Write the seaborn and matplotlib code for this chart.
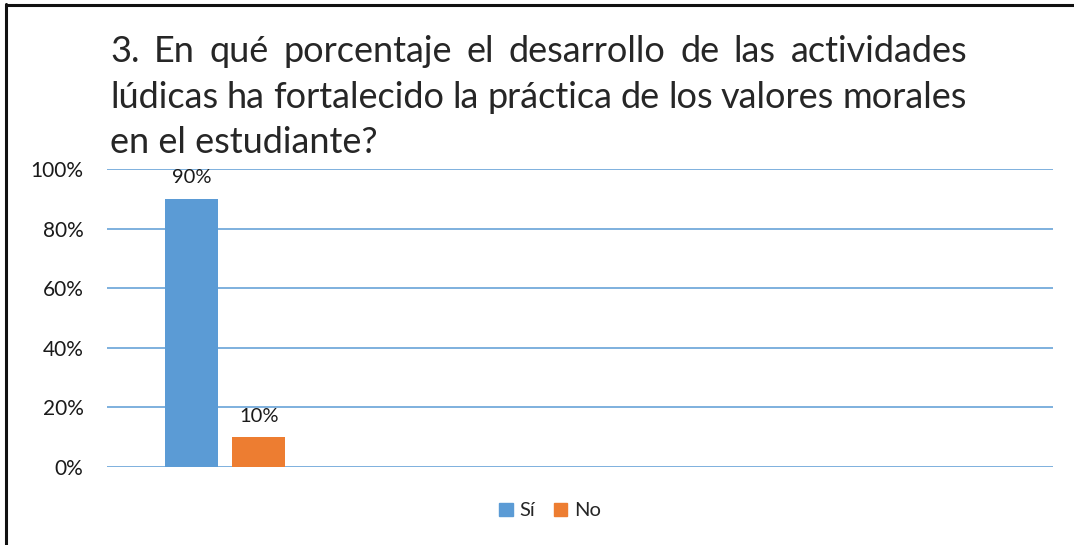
import matplotlib
matplotlib.use("Agg")
import matplotlib.pyplot as plt
import matplotlib.patches as mpatches
from matplotlib.lines import Line2D
from matplotlib.ticker import PercentFormatter
import numpy as np
import pandas as pd
import seaborn as sns

# ---------- Data ----------
respuestas = ["Sí", "No"]
porcentajes = [0.90, 0.10]
colores = ["#5B9BD5", "#ED7D31"]
etiquetas = ["90%", "10%"]
titulo_lineas = [
    "3. En qué porcentaje el desarrollo de las actividades",
    "lúdicas ha fortalecido la práctica de los valores morales",
    "en el estudiante?",
]
y_ticks = [0, 0.2, 0.4, 0.6, 0.8, 1.0]

df = pd.DataFrame({
    "pregunta": ["3"] * len(respuestas),
    "respuesta": respuestas,
    "porcentaje": porcentajes,
})

# ---------- Style ----------
sns.set_style("white")
plt.rcParams["font.family"] = ["Lato", "DejaVu Sans"]

W, H = 1074, 545
fig = plt.figure(figsize=(W / 100, H / 100), dpi=100)
ax = fig.add_axes([107 / W, 1 - 467 / H, (1053 - 107) / W, (467 - 169) / H])

sns.barplot(
    data=df, x="pregunta", y="porcentaje", hue="respuesta",
    palette=colores, saturation=1, width=0.567, gap=0.21,
    linewidth=0, legend=False, ax=ax,
)

# label bars
for cont, lab in zip(ax.containers, etiquetas):
    ax.bar_label(cont, labels=[lab], padding=9, fontsize=14.5, color="#1a1a1a")

ax.set_xlim(-0.5, 3.5)
ax.set_ylim(0, 1)
ax.set_yticks(y_ticks)
ax.yaxis.set_major_formatter(PercentFormatter(1.0, decimals=0))
ax.set_xticks([])
ax.set_xlabel("")
ax.set_ylabel("")
ax.tick_params(axis="y", length=0, pad=17, labelsize=15, labelcolor="#1a1a1a")
ax.grid(axis="y", color="#5B9BD5", linewidth=1.1)
ax.set_axisbelow(True)
for s in ax.spines.values():
    s.set_visible(False)

# ---------- Legend ----------
handles = [mpatches.Patch(color=c, label=r) for c, r in zip(colores, respuestas)]
fig.legend(
    handles=handles, loc="center", bbox_to_anchor=(550 / W, 1 - 511 / H),
    ncol=2, frameon=False, fontsize=14.5, handlelength=0.65, handleheight=0.65,
    handletextpad=0.35, columnspacing=0.9,
)

# ---------- Justified title ----------
renderer = fig.canvas.get_renderer()
x0, x1 = 110, 967
baselines = [62, 108, 153]
fs_title = 26
for i, (linea, yb) in enumerate(zip(titulo_lineas, baselines)):
    palabras = linea.split(" ")
    yf = 1 - yb / H
    if i == len(titulo_lineas) - 1:
        fig.text(x0 / W, yf, linea, fontsize=fs_title, va="baseline", ha="left")
        continue
    anchos = []
    for p in palabras:
        t = fig.text(0, 0, p, fontsize=fs_title)
        anchos.append(t.get_window_extent(renderer).width)
        t.remove()
    hueco = (x1 - x0 - sum(anchos)) / (len(palabras) - 1)
    x = x0
    for p, w in zip(palabras, anchos):
        fig.text(x / W, yf, p, fontsize=fs_title, va="baseline", ha="left")
        x += w + hueco

# ---------- Border (top and left only) ----------
fig.add_artist(Line2D([6 / W, 1], [1 - 4.5 / H, 1 - 4.5 / H],
                      transform=fig.transFigure, color="#111111", linewidth=2.2))
fig.add_artist(Line2D([6 / W, 6 / W], [0, 1 - 3.5 / H],
                      transform=fig.transFigure, color="#111111", linewidth=2.2))

fig.savefig("out.png", dpi=100)
